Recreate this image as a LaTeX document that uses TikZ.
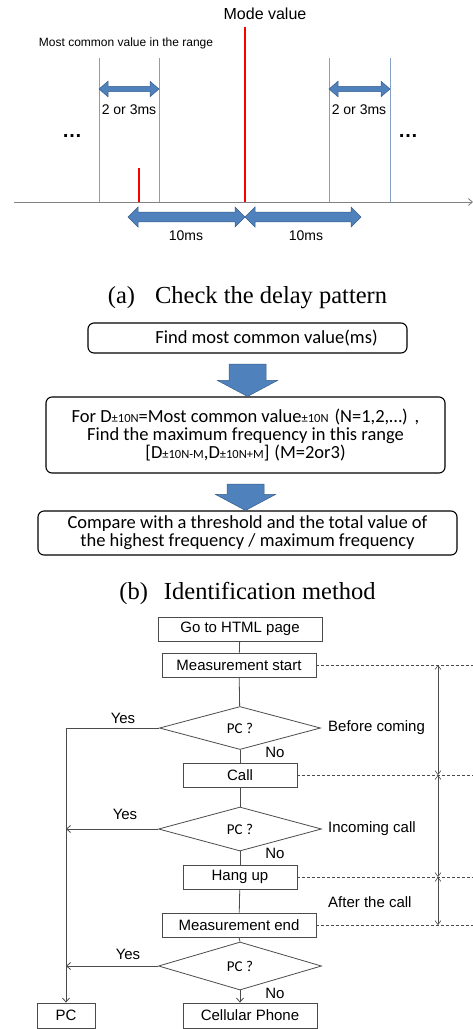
\documentclass[tikz,border=0pt]{standalone}
\usepackage{fontspec}
\setmainfont{Liberation Sans}
\newfontfamily\calib{Carlito}
\newfontfamily\timesf{Liberation Serif}
\usetikzlibrary{shapes.geometric,arrows.meta,calc}

\definecolor{blockblue}{RGB}{79,129,189}
\definecolor{blockedge}{RGB}{56,93,138}
\definecolor{guide}{RGB}{135,158,195}
\definecolor{axisgray}{RGB}{130,130,130}
\definecolor{flowgray}{RGB}{75,75,75}

% thick horizontal double-headed block arrow: x1, x2, y, half shaft, half head, head length
\newcommand\dblarrow[6]{%
  \filldraw[blockarrow] (#1,#3) -- ({#1+#6},{#3-#5}) -- ({#1+#6},{#3-#4}) -- ({#2-#6},{#3-#4})
    -- ({#2-#6},{#3-#5}) -- (#2,#3) -- ({#2-#6},{#3+#5}) -- ({#2-#6},{#3+#4})
    -- ({#1+#6},{#3+#4}) -- ({#1+#6},{#3+#5}) -- cycle;}

% downward block arrow between two stacked boxes
\newcommand\blockdown[2]{%
  \filldraw[blockarrow] let \p1=(#1.south), \p2=(#2.north) in
    (\x1-18.5pt,\y1-10.5pt) -- (\x1+18.5pt,\y1-10.5pt) -- (\x1+18.5pt,\y2+16pt)
    -- (\x1+30pt,\y2+16pt) -- (\x1,\y2) -- (\x1-30pt,\y2+16pt)
    -- (\x1-18.5pt,\y2+16pt) -- cycle;}

% small "plus/minus" index set after D
\newcommand\pmidx[1]{\raisebox{-0.5pt}{\fontsize{12.5}{12.5}\selectfont ±#1}}

\begin{document}
\begin{tikzpicture}[x=1pt,y=-1pt,
  blockarrow/.style={fill=blockblue, draw=blockedge, line width=0.5pt},
  guideline/.style={draw=guide, line width=1pt},
  redline/.style={draw=red, line width=1.1pt},
  lbl/.style={inner sep=0pt, font=\fontsize{14}{14}\selectfont},
  stepbox/.style={draw=black, line width=1.1pt, rounded corners=6pt, inner sep=0pt,
    align=center, font=\calib\fontsize{18.5}{18}\selectfont},
  caption/.style={inner sep=0pt, font=\timesf\fontsize{24.5}{24.5}\selectfont},
  flowbox/.style={draw=flowgray, line width=0.8pt, inner sep=0pt, minimum height=24pt,
    font=\fontsize{15}{15}\selectfont},
  decision/.style={diamond, draw=flowgray, line width=0.8pt, inner sep=0pt,
    font=\calib\fontsize{15}{15}\selectfont},
  flowline/.style={draw=flowgray, line width=0.8pt},
  barb/.style={-{Straight Barb[length=4pt,width=7pt]}},
  flowtext/.style={inner sep=0pt, font=\fontsize{15}{15}\selectfont},
  dashguide/.style={draw=flowgray, line width=0.6pt, dash pattern=on 3pt off 2pt},
  dimline/.style={draw=flowgray, line width=0.6pt,
    {Straight Barb[length=4pt,width=6pt]}-{Straight Barb[length=4pt,width=6pt]}}]

\useasboundingbox (0,0) rectangle (473,1029);

% ---------- (a) delay pattern ----------
\node[lbl, font=\fontsize{16}{16}\selectfont] (mode) at (265,14) {Mode value};
\node[lbl, font=\fontsize{12}{12}\selectfont] (mcv) at (126,43) {Most common value in the range};

\draw[guideline] (99,58) -- (99,202);
\draw[guideline] (159,58) -- (159,202);
\draw[guideline] (329,58) -- (329,202);
\draw[guideline] (390,58) -- (390,202);

\draw[redline] (245,27) -- (245,202);
\draw[redline] (139,168) -- (139,202);

\draw[draw=axisgray, line width=0.9pt, -{Straight Barb[length=4pt,width=7pt]}] (14,202) -- (473,202);

\dblarrow{99}{159}{89}{2.7}{7.8}{9}
\dblarrow{329}{390}{89}{2.7}{7.8}{9}
\dblarrow{128}{245}{217}{4.8}{10}{10}
\dblarrow{245}{361}{217}{4.8}{10}{10}

\node[lbl] (w1) at (129,110) {2 or 3ms};
\node[lbl] (w2) at (359,110) {2 or 3ms};
\node[lbl] (s1) at (186,236) {10ms};
\node[lbl] (s2) at (306,236) {10ms};
\node[lbl, font=\bfseries\fontsize{20}{20}\selectfont] (dl) at (72,136) {…};
\node[lbl, font=\bfseries\fontsize{20}{20}\selectfont] (dr) at (408,136) {…};

\node[caption] (capa) at (247.5,298) {(a)\hspace{20pt}Check the delay pattern};

% ---------- (b) identification steps ----------
\node[stepbox, minimum width=319pt, minimum height=30pt] (box1) at (247.5,338)
  {\hspace*{38pt}Find most common value(ms)};
\node[stepbox, minimum width=399pt, minimum height=76pt] (box2) at (245.5,435)
  {For D\pmidx{10N}=Most common value\pmidx{10N}\hspace{6pt}(N=1,2,…)\hspace{7pt},\\
   Find the maximum frequency in this range\\
   {[}D\pmidx{10N-M},D\pmidx{10N+M}{]}\hspace{5pt}(M=2or3)};
\node[stepbox, minimum width=419pt, minimum height=44pt] (box3) at (247.5,533)
  {Compare with a threshold and the total value of\\the highest frequency / maximum frequency};

\blockdown{box1}{box2}
\blockdown{box2}{box3}

\node[caption] (capb) at (247.5,593) {(b)\hspace{16pt}Identification method};

% ---------- flowchart ----------
\node[flowbox, minimum width=164pt] (html) at (240,629) {Go to HTML page};
\node[flowbox, minimum width=154pt] (ms) at (239,665) {Measurement start};
\node[decision, minimum width=161pt, minimum height=43pt] (d1) at (240,728) {PC ?};
\node[flowbox, minimum width=114pt] (call) at (240,775) {Call};
\node[decision, minimum width=163pt, minimum height=44pt] (d2) at (240,829) {PC ?};
\node[flowbox, minimum width=114pt] (hang) at (240,877) {Hang up};
\node[flowbox, minimum width=154pt] (mend) at (239,925) {Measurement end};
\node[decision, minimum width=163pt, minimum height=48pt] (d3) at (240,966) {PC ?};
\node[flowbox, minimum width=134pt, minimum height=25pt] (cell) at (250,1015.5) {Cellular Phone};
\node[flowbox, minimum width=58pt, minimum height=25pt] (pc) at (66,1015.5) {PC};

\draw[flowline] (html) -- (ms);
\draw[flowline] (ms) -- (d1);
\draw[flowline] (d1) -- (call);
\draw[flowline] (call) -- (d2);
\draw[flowline] (d2) -- (hang);
\draw[flowline] (hang) -- (mend);
\draw[flowline] (mend.south) -- (d3.north);
\draw[flowline, barb] (d3.south) -- (d3.south |- cell.north);

\draw[flowline, barb] (d1.west) -| (pc.north);
\draw[flowline, barb] (d2.west) -- (d2.west -| pc.north);
\draw[flowline, barb] (d3.west) -- (d3.west -| pc.north);

\node[flowtext] (y1) at (123,718) {Yes};
\node[flowtext] (y2) at (125,814) {Yes};
\node[flowtext] (y3) at (128,954) {Yes};
\node[flowtext] (n1) at (275,752) {No};
\node[flowtext] (n2) at (275,853) {No};
\node[flowtext] (n3) at (275,993) {No};

\node[flowtext, anchor=west] (ph1) at (328,728) {Before coming};
\node[flowtext, anchor=west] (ph2) at (328,829) {Incoming call};
\node[flowtext, anchor=west] (ph3) at (328,902) {After the call};

% phase boundaries and their spans
\coordinate (edge) at (473,0);
\coordinate (dimx) at (438,0);
\draw[dashguide] (ms.east) -- (ms.east -| edge);
\draw[dashguide] (call.east) -- (call.east -| edge);
\draw[dashguide] (hang.east) -- (hang.east -| edge);
\draw[dashguide] (mend.east) -- (mend.east -| edge);

\draw[dimline] (ms.east -| dimx) -- (call.east -| dimx);
\draw[dimline] (call.east -| dimx) -- (hang.east -| dimx);
\draw[dimline] (hang.east -| dimx) -- (mend.east -| dimx);

\end{tikzpicture}
\end{document}
